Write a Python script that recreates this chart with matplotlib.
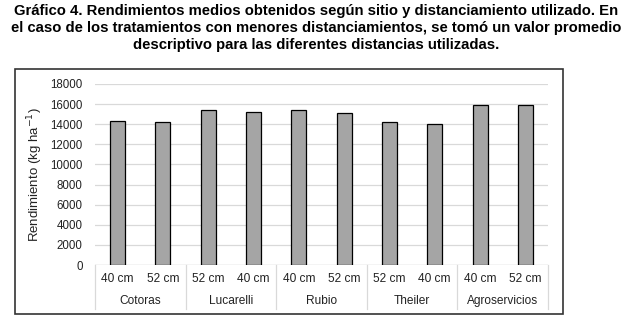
import matplotlib.pyplot as plt
import matplotlib.transforms as mtransforms
from matplotlib.patches import Rectangle
from matplotlib.lines import Line2D

plt.rcParams['font.family'] = ['Liberation Sans', 'DejaVu Sans']

sitios = ["Cotoras", "Lucarelli", "Rubio", "Theiler", "Agroservicios"]
distancias = ["40 cm", "52 cm", "52 cm", "40 cm", "40 cm", "52 cm",
              "52 cm", "40 cm", "40 cm", "52 cm"]
rendimiento = [14300, 14200, 15400, 15200, 15450, 15150,
               14250, 14000, 15900, 15870]
yticks = list(range(0, 18001, 2000))

titulo = ("Gráfico 4. Rendimientos medios obtenidos según sitio y distanciamiento utilizado. En\n"
          "el caso de los tratamientos con menores distanciamientos, se tomó un valor promedio\n"
          "descriptivo para las diferentes distancias utilizadas.")

W, H = 633, 325
fig = plt.figure(figsize=(W / 100, H / 100), dpi=100)

# plot area in pixels: x 95..548, y 84..265
ax = fig.add_axes([95 / W, 1 - 265 / H, (548 - 95) / W, (265 - 84) / H])
x = list(range(len(rendimiento)))
ax.bar(x, rendimiento, width=0.33, color="#a5a5a5", edgecolor="black",
       linewidth=0.9, zorder=3)
ax.set_xlim(-0.5, len(rendimiento) - 0.5)
ax.set_ylim(0, 18000)
ax.set_yticks(yticks)
ax.set_yticklabels([str(v) for v in yticks], fontsize=8.3, color="#222222")
ax.tick_params(axis="y", length=0, pad=9)
ax.set_xticks([])
ax.yaxis.grid(True, color="#d9d9d9", linewidth=0.9, zorder=0)
for s in ax.spines.values():
    s.set_visible(False)
ax.axhline(0, color="#d0d0d0", linewidth=0.9, zorder=2)

ax.set_ylabel("Rendimiento (kg ha$^{-1}$)", fontsize=9.5, color="#222222",
              labelpad=4)

# category labels, two levels
trans = mtransforms.blended_transform_factory(ax.transData, fig.transFigure)
for i, d in enumerate(distancias):
    ax.text(i, 1 - 279 / H, d, transform=trans, ha="center", va="center",
            fontsize=8.6, color="#222222")
for g, sitio in enumerate(sitios):
    ax.text(2 * g + 0.5, 1 - 301 / H, sitio, transform=trans, ha="center",
            va="center", fontsize=8.6, color="#222222")
for b in [-0.5, 1.5, 3.5, 5.5, 7.5, 9.5]:
    ax.add_line(Line2D([b, b], [1 - 265 / H, 1 - 309 / H], transform=trans,
                       color="#d9d9d9", linewidth=0.9, clip_on=False))

# frame around the chart
fig.patches.append(Rectangle((15 / W, 1 - 314 / H), (563 - 15) / W, (314 - 69) / H,
                             transform=fig.transFigure, fill=False,
                             edgecolor="#333333", linewidth=1.2))

fig.text(0.5, 1 - 4 / H, titulo, ha="center", va="top", fontsize=10.7,
         fontweight="bold", linespacing=1.28)

fig.savefig("out.png", dpi=100)
